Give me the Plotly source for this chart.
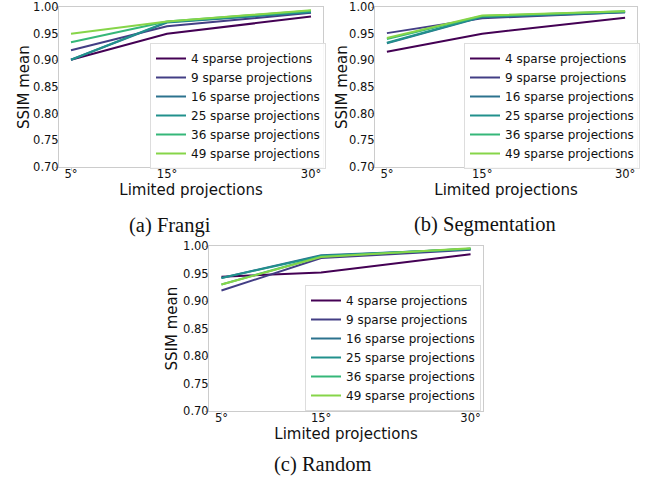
import plotly.graph_objects as go

# ---- data ----
angles = [5, 15, 30]
angle_labels = ["5°", "15°", "30°"]
series_names = ["4 sparse projections", "9 sparse projections", "16 sparse projections",
                "25 sparse projections", "36 sparse projections", "49 sparse projections"]

frangi_4 = [0.901, 0.950, 0.982]
frangi_9 = [0.919, 0.964, 0.989]
frangi_16 = [0.901, 0.971, 0.990]
frangi_25 = [0.901, 0.972, 0.991]
frangi_36 = [0.934, 0.973, 0.993]
frangi_49 = [0.950, 0.973, 0.994]

seg_4 = [0.916, 0.950, 0.980]
seg_9 = [0.951, 0.979, 0.990]
seg_16 = [0.932, 0.981, 0.990]
seg_25 = [0.933, 0.982, 0.991]
seg_36 = [0.940, 0.983, 0.992]
seg_49 = [0.942, 0.984, 0.992]

rand_4 = [0.944, 0.952, 0.985]
rand_9 = [0.919, 0.978, 0.993]
rand_16 = [0.942, 0.983, 0.994]
rand_25 = [0.942, 0.982, 0.995]
rand_36 = [0.930, 0.981, 0.995]
rand_49 = [0.930, 0.980, 0.996]

y_ticks = [0.70, 0.75, 0.80, 0.85, 0.90, 0.95, 1.00]
captions = ["(a) Frangi", "(b) Segmentation", "(c) Random"]
x_title = "Limited projections"
y_title = "SSIM mean"

colors = ["#440154", "#433e85", "#2c728e", "#21918c", "#35b779", "#86d549"]

panels = [
    [frangi_4, frangi_9, frangi_16, frangi_25, frangi_36, frangi_49],
    [seg_4, seg_9, seg_16, seg_25, seg_36, seg_49],
    [rand_4, rand_9, rand_16, rand_25, rand_36, rand_49],
]

W, H = 648, 483
# axes boxes in pixels (left, right, top, bottom)
boxes = [(59, 323, 7, 167), (375, 637, 7, 167), (209, 483, 246, 411)]
legend_pos = [(150, 43), (464, 43), (305, 285)]
caption_pos = [(170, 225), (485, 224), (322, 464)]
ytitle_x = [24, 342, 171]

fig = go.Figure()
font = "DejaVu Sans"
spine = "#cccccc"

for p, (series, box) in enumerate(zip(panels, boxes)):
    sfx = "" if p == 0 else str(p + 1)
    lg = "legend" if p == 0 else f"legend{p+1}"
    for name, vals, col in zip(series_names, series, colors):
        fig.add_trace(go.Scatter(
            x=angles, y=vals, mode="lines", name=name,
            line=dict(color=col, width=2),
            xaxis="x" + sfx, yaxis="y" + sfx, legend=lg, showlegend=True,
        ))
    l, r, t, b = box
    fig.layout["xaxis" + sfx] = dict(
        domain=[l / W, r / W], anchor="y" + sfx, range=[3.75, 31.25],
        tickvals=angles, ticktext=angle_labels, showgrid=False, zeroline=False,
        showline=True, linecolor=spine, linewidth=1, mirror=True,
        ticks="outside", ticklen=3, tickcolor=spine, ticklabelstandoff=-7,
        tickfont=dict(family=font, size=11.5, color="#111"),
        title=dict(text=x_title, standoff=2,
                   font=dict(family=font, size=15, color="#111")),
        automargin=False,
    )
    fig.layout["yaxis" + sfx] = dict(
        domain=[1 - b / H, 1 - t / H], anchor="x" + sfx, range=[0.70, 1.00],
        tickvals=y_ticks, tickformat=".2f", showgrid=False, zeroline=False,
        showline=True, linecolor=spine, linewidth=1, mirror=True,
        ticks="outside", ticklen=3, tickcolor=spine, ticklabelstandoff=-6,
        tickfont=dict(family=font, size=11.5, color="#111"),
        automargin=False,
    )
    # y-axis title
    fig.add_annotation(
        text=y_title, textangle=-90, x=ytitle_x[p] / W, y=1 - (t + b) / 2 / H,
        xref="paper", yref="paper", showarrow=False,
        xanchor="center", yanchor="middle",
        font=dict(family=font, size=15, color="#111"),
    )
    lx, ly = legend_pos[p]
    fig.layout[lg] = dict(
        x=lx / W, y=1 - ly / H, xanchor="left", yanchor="top",
        bgcolor="rgba(255,255,255,0.85)", bordercolor="#dddddd", borderwidth=1,
        font=dict(family=font, size=12, color="#111"),
        tracegroupgap=0, itemwidth=30,
    )
    cx, cy = caption_pos[p]
    fig.add_annotation(
        text=captions[p], x=cx / W, y=1 - cy / H, xref="paper", yref="paper",
        showarrow=False, xanchor="center", yanchor="middle",
        font=dict(family="Liberation Serif", size=20.5, color="#111"),
    )

fig.update_layout(
    width=W, height=H, margin=dict(l=0, r=0, t=0, b=0),
    paper_bgcolor="white", plot_bgcolor="white", showlegend=True,
)

fig.write_html("out.html", config={"displayModeBar": False},
               post_script="document.body.style.margin='0px';")
